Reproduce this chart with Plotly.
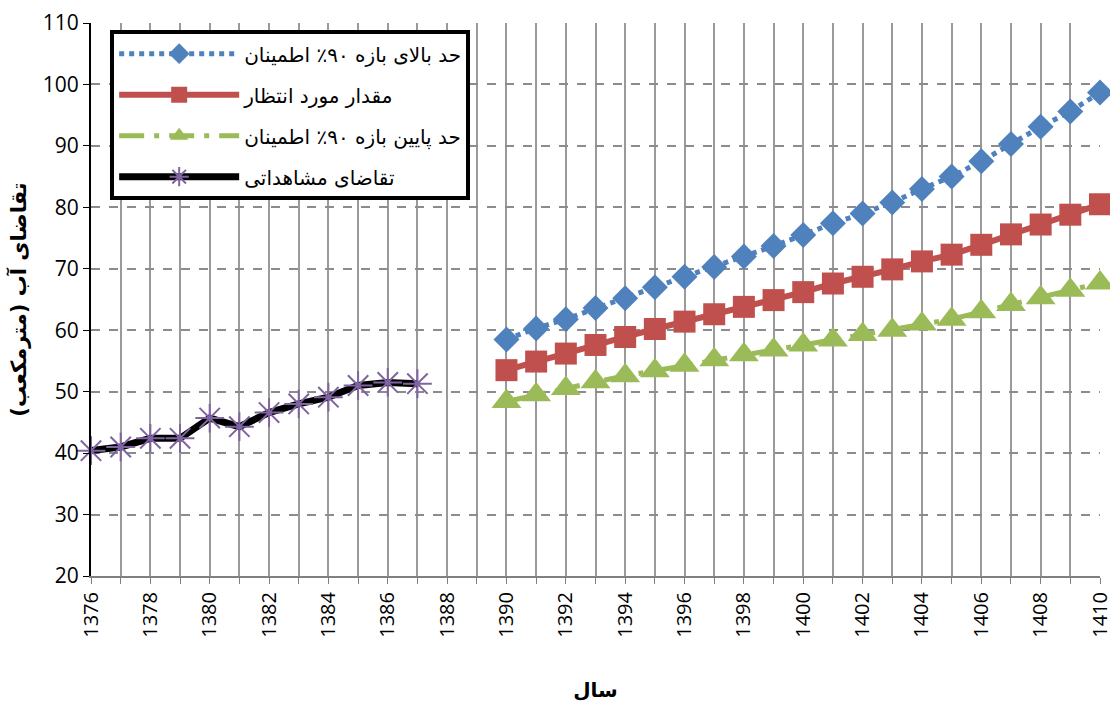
import plotly.graph_objects as go

obs_years = list(range(1376, 1388))
obs_vals = [40.4, 41.0, 42.4, 42.4, 45.7, 44.3, 46.6, 48.0, 49.1, 51.0, 51.5, 51.3]

fc_years = list(range(1390, 1411))
upper_vals = [58.5, 60.3, 61.8, 63.6, 65.2, 67.0, 68.7, 70.3, 72.0, 73.7, 75.5,
              77.4, 79.0, 80.8, 83.0, 85.0, 87.5, 90.3, 93.1, 95.6, 98.7]
mid_vals = [53.5, 54.9, 56.2, 57.6, 58.9, 60.2, 61.4, 62.6, 63.8, 64.9, 66.2,
            67.6, 68.7, 69.9, 71.2, 72.3, 73.9, 75.6, 77.2, 78.8, 80.5]
lower_vals = [48.4, 49.5, 50.5, 51.6, 52.6, 53.4, 54.3, 55.2, 56.0, 56.8, 57.6,
              58.4, 59.3, 60.0, 61.0, 61.8, 63.0, 64.2, 65.3, 66.5, 67.7]

names = ["حد بالای بازه ۹۰٪ اطمینان", "مقدار مورد انتظار",
         "حد پایین بازه ۹۰٪ اطمینان", "تقاضای مشاهداتی"]

fig = go.Figure()
fig.add_trace(go.Scatter(x=fc_years, y=upper_vals, name=names[0], mode="lines+markers",
                         legendgroup="a", cliponaxis=False,
                         line=dict(color="#4F81BD", width=5, dash="dot"),
                         marker=dict(symbol="diamond", size=20, color="#4F81BD")))
fig.add_trace(go.Scatter(x=fc_years, y=mid_vals, name=names[1], mode="lines+markers",
                         legendgroup="b", cliponaxis=False,
                         line=dict(color="#C0504D", width=6),
                         marker=dict(symbol="square", size=22, color="#C0504D")))
fig.add_trace(go.Scatter(x=fc_years, y=lower_vals, name=names[2], mode="lines+markers",
                         legendgroup="c", cliponaxis=False,
                         line=dict(color="#9BBB59", width=5, dash="longdashdot"),
                         marker=dict(symbol="triangle-up", size=26, color="#9BBB59")))
fig.add_trace(go.Scatter(x=obs_years, y=obs_vals, name=names[3], mode="lines+markers",
                         legendgroup="d", cliponaxis=False,
                         line=dict(color="black", width=7),
                         marker=dict(symbol="asterisk-open", size=24, color="#8064A2",
                                     line=dict(color="#8064A2", width=2))))

fig.update_layout(
    width=1110, height=706,
    margin=dict(l=91, r=10, t=23, b=130),
    paper_bgcolor="white", plot_bgcolor="white",
    font=dict(family="Open Sans, DejaVu Sans", size=21, color="black"),
    legend=dict(x=0.019, y=0.987, xanchor="left", yanchor="top",
                bgcolor="white", bordercolor="black", borderwidth=4,
                font=dict(size=20, family="DejaVu Sans"),
                tracegroupgap=12, traceorder="grouped", itemwidth=120),
    showlegend=True,
)
fig.update_xaxes(
    range=[1376, 1410], dtick=2, tick0=1376, tickangle=-90,
    tickfont=dict(size=20, family="Open Sans"), ticklabeloverflow="allow",
    showgrid=True, gridcolor="#9A9A9A", gridwidth=2,
    minor=dict(dtick=1, showgrid=True, gridcolor="#9A9A9A", gridwidth=2,
               ticks="outside", ticklen=6, tickcolor="#808080"),
    ticks="outside", ticklen=6, tickcolor="#808080",
    showline=True, linecolor="#808080", linewidth=2,
    zeroline=False, automargin=False,
    title=dict(text="<b>سال</b>", font=dict(size=20, family="DejaVu Sans"), standoff=46),
)
fig.update_yaxes(
    range=[20, 110], dtick=10,
    tickfont=dict(size=21, family="Open Sans"),
    showgrid=True, gridcolor="#8C8C8C", gridwidth=2, griddash="dash",
    ticks="outside", ticklen=6, tickcolor="black",
    showline=True, linecolor="black", linewidth=2,
    zeroline=False, automargin=False,
    title=dict(text="<b>تقاضای آب (مترمکعب)</b>", font=dict(size=21, family="DejaVu Sans"), standoff=10),
)

fig.write_html(
    "out.html",
    config={"displayModeBar": False},
    post_script="document.body.style.margin='0';"
                "document.documentElement.style.overflow='hidden';"
                "document.body.style.overflow='hidden';",
)
